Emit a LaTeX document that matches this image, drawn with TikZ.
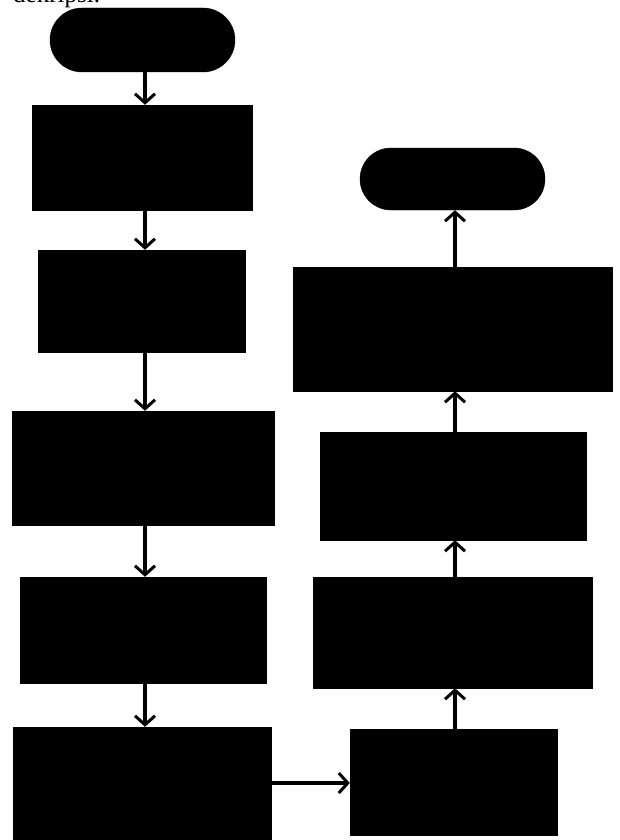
\documentclass[tikz,border=0pt]{standalone}
\usepackage{fontspec}
\setmainfont{Liberation Serif}
\usetikzlibrary{arrows.meta,shapes.misc}
\begin{document}
\begin{tikzpicture}[x=1pt,y=-1pt,
  blk/.style={rectangle,draw=black,fill=black,inner sep=0pt},
  term/.style={rounded rectangle,draw=black,fill=black,inner sep=0pt},
  flow/.style={line width=3.2pt,-{Straight Barb[length=9pt,width=20pt,line width=3pt]}}]
\useasboundingbox (0,0) rectangle (620,840);
\node[anchor=base west,inner sep=0pt,font=\fontsize{25}{27}\selectfont] (cap) at (13,3) {dekripsi.};
% left column
\node[term,minimum width=185,minimum height=64] (start) at (142.5,40) {};
\node[blk,minimum width=220,minimum height=105] (b1) at (142,157.5) {};
\node[blk,minimum width=207,minimum height=102] (b2) at (141.5,301) {};
\node[blk,minimum width=262,minimum height=114] (b3) at (143,468) {};
\node[blk,minimum width=246,minimum height=106] (b4) at (143,630) {};
\node[blk,minimum width=258,minimum height=120] (b5) at (142,787) {};
% right column
\node[blk,minimum width=207,minimum height=106] (b6) at (453.5,782) {};
\node[blk,minimum width=279,minimum height=111] (b7) at (452.5,632.5) {};
\node[blk,minimum width=266,minimum height=108] (b8) at (453,486) {};
\node[blk,minimum width=319,minimum height=124] (b9) at (452.5,329) {};
\node[term,minimum width=185,minimum height=62] (end) at (452.5,179) {};
% connectors
\draw[flow] (start.south -| 145,0) -- (b1.north -| 145,0);
\draw[flow] (b1.south -| 145,0) -- (b2.north -| 145,0);
\draw[flow] (b2.south -| 145,0) -- (b3.north -| 145,0);
\draw[flow] (b3.south -| 145,0) -- (b4.north -| 145,0);
\draw[flow] (b4.south -| 145,0) -- (b5.north -| 145,0);
\draw[flow] (b5.east |- 0,783) -- (b6.west |- 0,783);
\draw[flow] (b6.north -| 455,0) -- (b7.south -| 455,0);
\draw[flow] (b7.north -| 455,0) -- (b8.south -| 455,0);
\draw[flow] (b8.north -| 455,0) -- (b9.south -| 455,0);
\draw[flow] (b9.north -| 455,0) -- (end.south -| 455,0);
\end{tikzpicture}
\end{document}
